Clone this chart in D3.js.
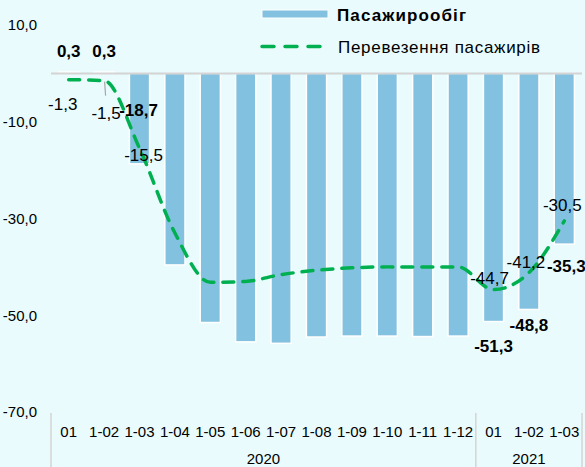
<!DOCTYPE html>
<html>
<head>
<meta charset="utf-8">
<script src="https://cdn.jsdelivr.net/npm/d3@7"></script>
<style>
  body { margin: 0; background: #e9fbfd; }
  svg { display: block; font-family: "Liberation Sans", Arial, sans-serif; }
</style>
</head>
<body>
<div id="chart"></div>
<script>
// Categories (months, cumulative) and year groups
const categories = ["01", "1-02", "1-03", "1-04", "1-05", "1-06", "1-07", "1-08", "1-09", "1-10", "1-11", "1-12", "01", "1-02", "1-03"];
const yearLabels = ["2020", "2021"];
const yearSpans = [12, 3];

// Series values, % change
const turnover = [0.3, 0.3, -18.7, -39.6, -51.5, -55.5, -55.8, -54.5, -54.3, -54.3, -54.4, -54.3, -51.3, -48.8, -35.3];
const transport = [-1.3, -1.5, -15.5, -33.0, -43.2, -43.0, -41.6, -40.7, -40.2, -40.0, -40.0, -40.0, -44.7, -41.2, -30.5];

// Y axis ticks
const yTicks = [10, -10, -30, -50, -70];

// Which values get a data label, and where it sits relative to the point
const turnoverLabels = [
  { i: 0, dx: 0, dy: -21 }, { i: 1, dx: 0, dy: -21 }, { i: 2, dx: -1, dy: -54 },
  { i: 12, dx: 0, dy: 25 }, { i: 13, dx: 0, dy: 16 }, { i: 14, dx: 2, dy: 22 }
];
const transportLabels = [
  { i: 0, dx: -6, dy: 24 }, { i: 1, dx: 2, dy: 32 }, { i: 2, dx: 4, dy: 7 },
  { i: 12, dx: -4, dy: -12 }, { i: 13, dx: -3, dy: -11 }, { i: 14, dx: -2, dy: -16 }
];

const width = 585, height = 467;
const plot = { left: 51, right: 582, top: 25, bottom: 412 };

const svg = d3.select("#chart").append("svg")
  .attr("width", width)
  .attr("height", height);

svg.append("rect").attr("width", width).attr("height", height).attr("fill", "#e9fbfd");

const x = d3.scaleBand()
  .domain(d3.range(categories.length))
  .range([plot.left, plot.right])
  .paddingInner(0.43)
  .paddingOuter(0.215);

const y = d3.scaleLinear().domain([-70, 10]).range([plot.bottom, plot.top]);

const fmt = v => d3.format(".1f")(v).replace(".", ",").replace("−", "-");

// Y tick labels
svg.append("g").selectAll("text")
  .data(yTicks)
  .join("text")
  .attr("x", 37)
  .attr("y", d => y(d))
  .attr("dy", "0.35em")
  .attr("text-anchor", "end")
  .attr("font-size", 15)
  .attr("fill", "#000")
  .text(fmt);

// Bars
svg.append("g").selectAll("rect")
  .data(turnover)
  .join("rect")
  .attr("x", (d, i) => x(i))
  .attr("width", x.bandwidth())
  .attr("y", d => y(Math.max(0, d)))
  .attr("height", d => Math.abs(y(d) - y(0)))
  .attr("fill", "#82c1df")
  .attr("stroke", "#fff")
  .attr("stroke-width", 1.5);

// Zero line
svg.append("line")
  .attr("x1", plot.left).attr("x2", plot.right)
  .attr("y1", y(0)).attr("y2", y(0))
  .attr("stroke", "#d4d4d4")
  .attr("stroke-width", 2);

// Dashed smoothed line
const cx = i => x(i) + x.bandwidth() / 2;
const line = d3.line()
  .x((d, i) => cx(i))
  .y(d => y(d))
  .curve(d3.curveMonotoneX);

svg.append("path")
  .datum(transport)
  .attr("d", line)
  .attr("fill", "none")
  .attr("stroke", "#00b050")
  .attr("stroke-width", 3.5)
  .attr("stroke-dasharray", "11,9")
  .attr("stroke-linecap", "round");

// Leader line for the 1-02 label
svg.append("line")
  .attr("x1", cx(1) + 0.5).attr("y1", y(transport[1]) + 1)
  .attr("x2", cx(1) + 1.5).attr("y2", y(transport[1]) + 15)
  .attr("stroke", "#a6a6a6")
  .attr("stroke-width", 1.2);

// Bar labels (bold)
svg.append("g").selectAll("text")
  .data(turnoverLabels)
  .join("text")
  .attr("x", d => cx(d.i) + d.dx)
  .attr("y", d => y(turnover[d.i]) + d.dy)
  .attr("dy", "0.35em")
  .attr("text-anchor", "middle")
  .attr("font-size", 17)
  .attr("font-weight", "bold")
  .attr("fill", "#000")
  .text(d => fmt(turnover[d.i]));

// Line labels
svg.append("g").selectAll("text")
  .data(transportLabels)
  .join("text")
  .attr("x", d => cx(d.i) + d.dx)
  .attr("y", d => y(transport[d.i]) + d.dy)
  .attr("dy", "0.35em")
  .attr("text-anchor", "middle")
  .attr("font-size", 17)
  .attr("fill", "#000")
  .text(d => fmt(transport[d.i]));

// Category labels
svg.append("g").selectAll("text")
  .data(categories)
  .join("text")
  .attr("x", (d, i) => cx(i))
  .attr("y", 432)
  .attr("dy", "0.35em")
  .attr("text-anchor", "middle")
  .attr("font-size", 15)
  .attr("fill", "#000")
  .text(d => d);

// Year groups with separators
const step = x.step();
let start = 0;
const bounds = [plot.left];
yearLabels.forEach((label, k) => {
  const x0 = plot.left + start * step;
  const x1 = plot.left + (start + yearSpans[k]) * step;
  bounds.push(x1);
  svg.append("text")
    .attr("x", (x0 + x1) / 2)
    .attr("y", 459)
    .attr("dy", "0.35em")
    .attr("text-anchor", "middle")
    .attr("font-size", 15)
    .attr("fill", "#000")
    .text(label);
  start += yearSpans[k];
});
svg.append("g").selectAll("line")
  .data(bounds)
  .join("line")
  .attr("x1", d => d).attr("x2", d => d)
  .attr("y1", plot.bottom + 1).attr("y2", height)
  .attr("stroke", "#d4d4d4")
  .attr("stroke-width", 1.5);

// Legend
const legend = svg.append("g");
legend.append("rect")
  .attr("x", 262).attr("y", 10)
  .attr("width", 66).attr("height", 8)
  .attr("fill", "#82c1df")
  .attr("stroke", "#fff")
  .attr("stroke-width", 1);
legend.append("text")
  .attr("x", 337).attr("y", 15)
  .attr("dy", "0.35em")
  .attr("font-size", 17)
  .attr("font-weight", "bold")
  .attr("textLength", 129)
  .attr("lengthAdjust", "spacing")
  .text("Пасажирообіг");
legend.append("line")
  .attr("x1", 262).attr("x2", 328)
  .attr("y1", 46.5).attr("y2", 46.5)
  .attr("stroke", "#00b050")
  .attr("stroke-width", 3.5)
  .attr("stroke-dasharray", "12,11")
  .attr("stroke-linecap", "round");
legend.append("text")
  .attr("x", 338).attr("y", 47)
  .attr("dy", "0.35em")
  .attr("font-size", 17)
  .attr("textLength", 202)
  .attr("lengthAdjust", "spacing")
  .text("Перевезення пасажирів");
</script>
</body>
</html>
